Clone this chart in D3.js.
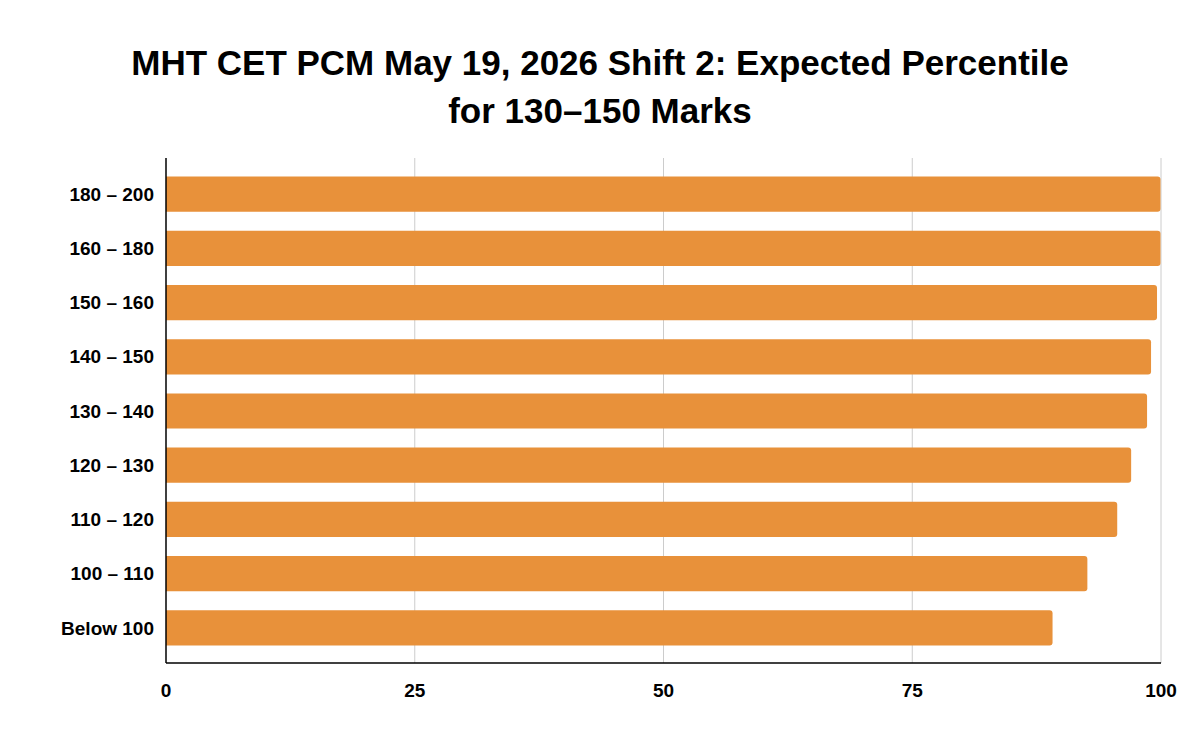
<!DOCTYPE html>
<html><head><meta charset="utf-8">
<script src="https://cdn.jsdelivr.net/npm/d3@7"></script>
<style>body{margin:0;background:#fff}</style></head>
<body><svg id="c" width="1200" height="742"></svg>
<script>
const categories = ["180 – 200","160 – 180","150 – 160","140 – 150","130 – 140","120 – 130","110 – 120","100 – 110","Below 100"];
const percentiles = [99.95, 99.95, 99.6, 99.0, 98.6, 97.0, 95.6, 92.6, 89.1];
const tickValues = [0, 25, 50, 75, 100];
const titleLines = ["MHT CET PCM May 19, 2026 Shift 2: Expected Percentile", "for 130–150 Marks"];

const svg = d3.select("#c");
const font = "'Liberation Sans', Arial, sans-serif";
const x = d3.scaleLinear().domain([0,100]).range([166,1161]);
const y = d3.scaleBand().domain(categories).range([167,655]).paddingInner(0.35).paddingOuter(0.175);

svg.append("g").selectAll("text").data(titleLines).join("text")
  .attr("x",600).attr("y",(d,i)=>75+i*48).attr("text-anchor","middle")
  .attr("font-family",font).attr("font-weight","bold").attr("font-size",35).attr("fill","#000").text(d=>d);

svg.append("g").selectAll("line").data(tickValues.slice(1)).join("line")
  .attr("x1",d=>x(d)).attr("x2",d=>x(d)).attr("y1",158).attr("y2",663)
  .attr("stroke","#ccc").attr("stroke-width",1);

svg.append("g").selectAll("path").data(percentiles).join("path")
  .attr("fill","#E8913A")
  .attr("d",(d,i)=>{const y0=y(categories[i]),h=y.bandwidth(),x0=x(0),x1=x(d),r=3;
    return `M${x0},${y0}H${x1-r}Q${x1},${y0} ${x1},${y0+r}V${y0+h-r}Q${x1},${y0+h} ${x1-r},${y0+h}H${x0}Z`;});

svg.append("line").attr("x1",166).attr("x2",166).attr("y1",158).attr("y2",663).attr("stroke","#000").attr("stroke-width",1.5);
svg.append("line").attr("x1",166).attr("x2",1161).attr("y1",663).attr("y2",663).attr("stroke","#000").attr("stroke-width",1.5);

svg.append("g").selectAll("text").data(categories).join("text")
  .attr("x",154).attr("y",d=>y(d)+y.bandwidth()/2).attr("dy","0.35em").attr("text-anchor","end")
  .attr("font-family",font).attr("font-weight","bold").attr("font-size",19).text(d=>d);

svg.append("g").selectAll("text").data(tickValues).join("text")
  .attr("x",d=>x(d)).attr("y",697).attr("text-anchor","middle")
  .attr("font-family",font).attr("font-weight","bold").attr("font-size",19).text(d=>d);
</script></body></html>
